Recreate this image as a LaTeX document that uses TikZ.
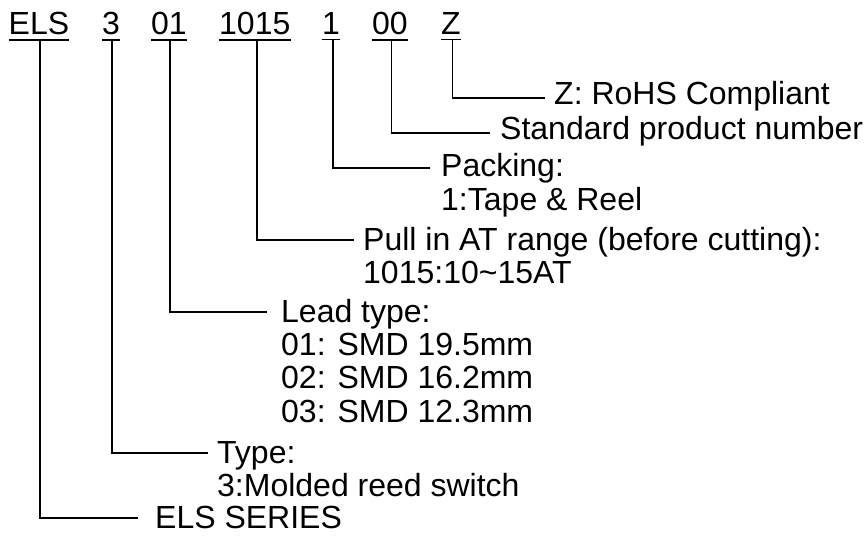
\documentclass[tikz,border=0pt]{standalone}
\usepackage{fontspec}
\setmainfont{Liberation Sans}
\begin{document}
\begin{tikzpicture}[x=1pt,y=-1pt,
  code/.style={inner sep=0pt,anchor=base west,font=\fontsize{32}{33.4}\selectfont},
  lbl/.style={inner sep=0pt,anchor=base west,align=left,font=\fontsize{32}{33.4}\selectfont},
  wire/.style={line width=1.9pt},
  uline/.style={line width=1.9pt}]
\useasboundingbox (0,0) rectangle (864,537);
% code row
\node[code] (els) at (8.5,35) {ELS};
\node[code] (c3) at (102,35) {3};
\node[code] (c01) at (151,35) {01};
\node[code] (c1015) at (219,35) {1015};
\node[code] (c1) at (322,35) {1};
\node[code] (c00) at (372,35) {00};
\node[code] (cZ) at (441,35) {Z};
\foreach \n in {els,c3,c01,c1015,c1,c00,cZ}
  \draw[uline] ([yshift=-4.3pt]\n.south west) -- ([yshift=-4.3pt]\n.south east);
% labels (base anchor = baseline of the last line)
\node[lbl] (lZ) at (554,105) {Z: RoHS Compliant};
\node[lbl] (l00) at (500,140) {Standard product number};
\node[lbl] (l1) at (441,210.4) {Packing:\\1:Tape \& Reel};
\node[lbl] (l1015) at (363,283.4) {Pull in AT range (before cutting):\\1015:10\textasciitilde15AT};
\node[lbl] (l01) at (281,422.2) {Lead type:\\01: SMD 19.5mm\\02: SMD 16.2mm\\03: SMD 12.3mm};
\node[lbl] (l3) at (217,496.4) {Type:\\3:Molded reed switch};
\node[lbl] (lels) at (155,528) {ELS SERIES};
% line ends
\coordinate (eZ) at (545,98);
\coordinate (e00) at (490,133);
\coordinate (e1) at (430,168);
\coordinate (e1015) at (354,240);
\coordinate (e01) at (267,312);
\coordinate (e3) at (208,453);
\coordinate (eels) at (138,518);
% connectors
\draw[wire] ([xshift=1.5pt,yshift=-4.3pt]els.south) |- (eels);
\draw[wire] ([xshift=1pt,yshift=-4.3pt]c3.south) |- (e3);
\draw[wire] ([xshift=1pt,yshift=-4.3pt]c01.south) |- (e01);
\draw[wire] ([xshift=2.5pt,yshift=-4.3pt]c1015.south) |- (e1015);
\draw[wire] ([xshift=1.5pt,yshift=-4.3pt]c1.south) |- (e1);
\draw[wire] ([xshift=1.5pt,yshift=-4.3pt]c00.south) |- (e00);
\draw[wire] ([xshift=1.5pt,yshift=-4.3pt]cZ.south) |- (eZ);
\end{tikzpicture}
\end{document}
